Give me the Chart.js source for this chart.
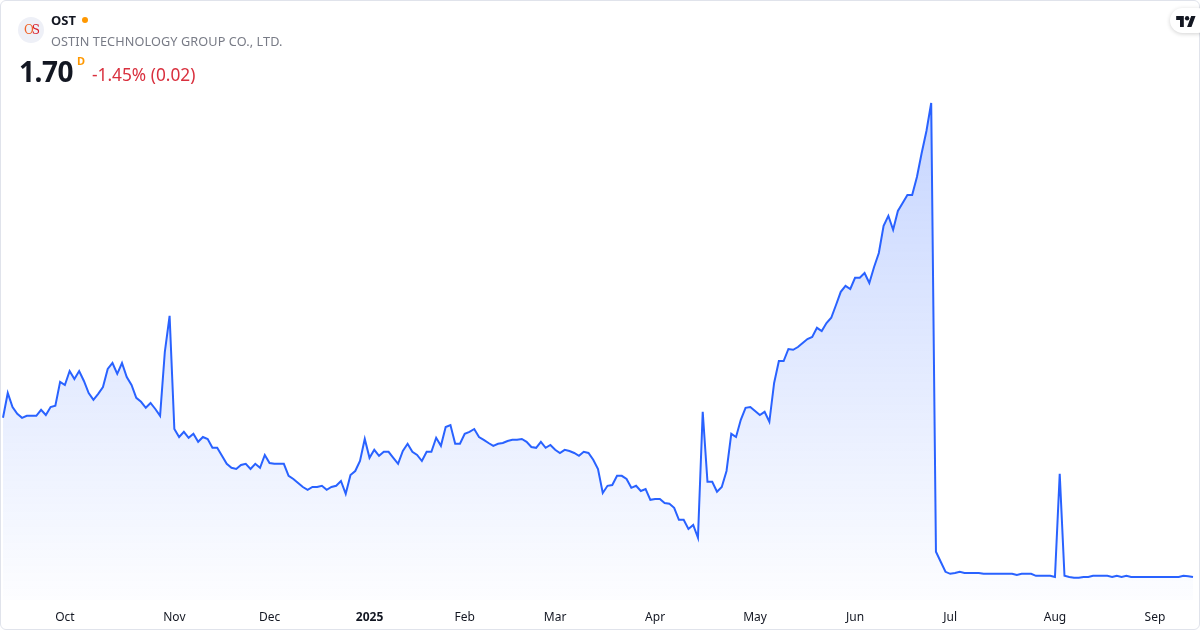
<!DOCTYPE html>
<html>
<head>
<meta charset="utf-8">
<script src="https://cdn.jsdelivr.net/npm/chart.js@4.4.1/dist/chart.umd.min.js"></script>
<style>
  html, body { margin: 0; padding: 0; background: #ffffff; }
  body { width: 1200px; height: 630px; position: relative; overflow: hidden; font-family: "Noto Sans", "Open Sans", sans-serif; }
  #frame { position: absolute; left: 0; top: 0; width: 1198px; height: 628px; border: 1px solid #e0e3eb; border-radius: 6px; }
  #chartWrap { position: absolute; left: 0; top: 0; width: 1200px; height: 630px; }
  #logo { position: absolute; left: 18px; top: 17px; width: 26px; height: 26px; border-radius: 50%; background: #eef0f7; text-align: center; line-height: 26px; font-family: "DejaVu Serif", serif; font-size: 12px; letter-spacing: -2px; }
  #logo .o { color: #f0652a; } #logo .s { color: #d81e2c; }
  #sym { position: absolute; left: 51px; top: 11px; font-size: 13px; font-weight: bold; color: #131722; }
  #dot { position: absolute; left: 82px; top: 17px; width: 6px; height: 6px; border-radius: 50%; background: #ff9800; }
  #name { position: absolute; left: 51px; top: 32px; font-size: 12.7px; color: #787b86; letter-spacing: 0.1px; }
  #price { position: absolute; left: 19px; top: 52px; font-size: 28px; font-weight: bold; color: #131722; letter-spacing: -0.5px; }
  #d { position: absolute; left: 77px; top: 53px; font-size: 11px; font-weight: bold; color: #ff9800; }
  #chg { position: absolute; left: 92px; top: 63px; font-size: 17.3px; color: #d9303e; }
  #tv { position: absolute; left: 1170px; top: 8px; width: 40px; height: 25px; border-radius: 13px; background: #fff; box-shadow: 0 1px 4px rgba(0,0,0,0.18); }
  #tv svg { position: absolute; left: 6px; top: 7px; }
</style>
</head>
<body>
<div id="chartWrap"><canvas id="c" width="1200" height="630"></canvas></div>
<div id="frame"></div>
<div id="logo"><span class="o">O</span><span class="s">S</span></div>
<div id="sym">OST</div>
<div id="dot"></div>
<div id="name">OSTIN TECHNOLOGY GROUP CO., LTD.</div>
<div id="price">1.70</div>
<div id="d">D</div>
<div id="chg">-1.45% (0.02)</div>
<div id="tv"><svg width="20" height="12" viewBox="0 0 36 22"><path d="M14 22H7V9H0V2h14v20zM28 22h-8l7.5-20h8L28 22z" fill="#131722"/><circle cx="20" cy="6" r="4" fill="#131722"/></svg></div>
<script>
// Trading days shown (month, day numbers)
const tradingMonths = [
  ['2024-09', [12,13,16,17,18,19,20,23,24,25,26,27,30]],
  ['2024-10', [1,2,3,4,7,8,9,10,11,14,15,16,17,18,21,22,23,24,25,28,29,30,31]],
  ['2024-11', [1,4,5,6,7,8,11,12,13,14,15,18,19,20,21,22,25,26,27,29]],
  ['2024-12', [2,3,4,5,6,9,10,11,12,13,16,17,18,19,20,23,24,26,27,30,31]],
  ['2025-01', [2,3,6,7,8,10,13,14,15,16,17,21,22,23,24,27,28,29,30,31]],
  ['2025-02', [3,4,5,6,7,10,11,12,13,14,18,19,20,21,24,25,26,27,28]],
  ['2025-03', [3,4,5,6,7,10,11,12,13,14,17,18,19,20,21,24,25,26,27,28,31]],
  ['2025-04', [1,2,3,4,7,8,9,10,11,14,15,16,17,21,22,23,24,25,28,29,30]],
  ['2025-05', [1,2,5,6,7,8,9,12,13,14,15,16,19,20,21,22,23,27,28,29,30]],
  ['2025-06', [2,3,4,5,6,9,10,11,12,13,16,17,18,20,23,24,25,26,27,30]],
  ['2025-07', [1,2,3,7,8,9,10,11,14,15,16,17,18,21,22,23,24,25,28,29,30,31]],
  ['2025-08', [1,4,5,6,7,8,11,12,13,14,15,18,19,20,21,22,25,26,27,28,29]],
  ['2025-09', [2,3,4,5,8,9,10,11,12]]
];
const monthNames = ['Jan','Feb','Mar','Apr','May','Jun','Jul','Aug','Sep','Oct','Nov','Dec'];

// Daily close prices
const closes2024 = [
  5.68,6.30,5.95,5.78,5.68,5.73,5.73,5.73,5.88,5.75,5.95,5.98,6.58,
  6.50,6.85,6.65,6.85,6.60,6.30,6.13,6.28,6.45,6.90,7.05,6.78,7.05,6.70,6.50,6.18,6.08,5.93,6.05,5.90,5.73,7.33,8.23,
  5.40,5.20,5.33,5.18,5.28,5.08,5.20,5.15,4.93,4.93,4.73,4.53,4.43,4.40,4.50,4.53,4.40,4.53,4.43,4.75,
  4.55,4.53,4.53,4.53,4.23,4.15,4.05,3.95,3.88,3.95,3.95,3.98,3.88,3.95,3.98,4.10,3.78,4.25,4.35,4.60,5.15
];
const closes2025 = [
  4.68,4.88,4.73,4.83,4.83,4.68,4.53,4.85,5.03,4.83,4.75,4.60,4.83,4.83,5.18,4.98,5.45,5.50,5.03,5.03,
  5.28,5.33,5.40,5.20,5.13,5.05,4.98,5.03,5.05,5.10,5.13,5.13,5.15,5.08,4.95,4.93,5.08,4.93,5.00,
  4.88,4.80,4.88,4.85,4.80,4.73,4.83,4.80,4.63,4.40,3.80,3.98,4.00,4.23,4.23,4.15,3.93,3.98,3.85,3.90,3.63,
  3.65,3.65,3.55,3.53,3.43,3.13,3.13,2.90,3.00,2.68,5.83,4.08,4.08,3.83,3.95,4.35,5.28,5.20,5.63,5.93,5.95,
  5.85,5.75,5.83,5.58,6.55,7.10,7.10,7.40,7.38,7.45,7.55,7.65,7.70,7.93,7.85,8.05,8.18,8.50,8.83,8.98,8.90,
  9.18,9.18,9.30,9.05,9.45,9.80,10.48,10.73,10.38,10.85,11.05,11.25,11.25,11.70,12.30,12.85,13.55,2.33,2.08,1.83,
  1.78,1.80,1.83,1.80,1.80,1.80,1.80,1.78,1.78,1.78,1.78,1.78,1.78,1.78,1.75,1.78,1.78,1.78,1.73,1.73,1.73,1.73,
  1.70,4.28,1.73,1.70,1.68,1.68,1.70,1.70,1.73,1.73,1.73,1.73,1.70,1.73,1.70,1.73,1.70,1.70,1.70,1.70,1.70,
  1.70,1.70,1.70,1.70,1.70,1.70,1.73,1.72,1.70
];

const labels = [];
tradingMonths.forEach(([ym, days]) => days.forEach(d => labels.push(ym + '-' + String(d).padStart(2, '0'))));
const prices = closes2024.concat(closes2025);

const yMin = 1.125, yMax = 14.125;

function monthLabel(idx) {
  if (idx <= 0) return '';
  const cur = labels[idx].slice(0, 7), prev = labels[idx - 1].slice(0, 7);
  if (cur === prev) return '';
  const m = parseInt(cur.slice(5, 7), 10);
  return m === 1 ? cur.slice(0, 4) : monthNames[m - 1];
}

const ctx = document.getElementById('c').getContext('2d');
new Chart(ctx, {
  type: 'line',
  data: {
    labels: labels,
    datasets: [{
      data: prices,
      borderColor: '#2962ff',
      borderWidth: 2,
      pointRadius: 0,
      tension: 0,
      fill: 'start',
      backgroundColor: (c) => {
        const a = c.chart.chartArea;
        if (!a) return 'rgba(41,98,255,0.1)';
        const g = c.chart.ctx.createLinearGradient(0, a.top, 0, a.bottom);
        g.addColorStop(0, 'rgba(41,98,255,0.28)');
        g.addColorStop(1, 'rgba(41,98,255,0.01)');
        return g;
      }
    }]
  },
  options: {
    responsive: false,
    animation: false,
    devicePixelRatio: 1,
    layout: { padding: { top: 80, left: 3, right: 7, bottom: 6 } },
    plugins: { legend: { display: false }, tooltip: { enabled: false } },
    scales: {
      x: {
        type: 'category',
        offset: false,
        grid: { display: false, drawTicks: false },
        border: { display: false },
        afterFit: (scale) => { scale.height = 24; scale.paddingLeft = 0; scale.paddingRight = 0; },
        ticks: {
          autoSkip: false,
          maxRotation: 0,
          minRotation: 0,
          padding: 10,
          color: '#131722',
          font: (c) => ({ family: '"Noto Sans", "Open Sans", sans-serif', size: 12, weight: (c.tick && c.tick.label === '2025') ? 'bold' : 'normal' }),
          callback: function (val, idx) { return monthLabel(idx); }
        }
      },
      y: { display: false, min: yMin, max: yMax }
    }
  }
});
</script>
</body>
</html>
